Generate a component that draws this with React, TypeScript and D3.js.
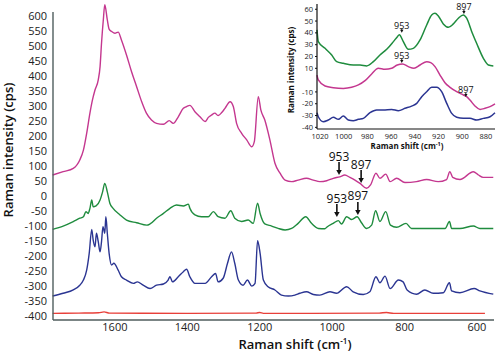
import React from 'react';
import * as d3 from 'd3';

type Pt = [number, number];

// Main spectra, [Raman shift (cm-1), intensity (cps)]
const magentaSpectrum: Pt[] = [
  [1772, 70], [1743, 81], [1715, 92], [1697, 120], [1687, 153], [1678, 209], [1669, 276], [1662, 320],
  [1655, 353], [1646, 387], [1641, 431], [1637, 509], [1632, 587], [1628, 637], [1621, 587], [1616, 556],
  [1609, 548], [1600, 542], [1591, 546], [1582, 520], [1568, 470], [1554, 414], [1540, 364], [1526, 314],
  [1513, 276], [1499, 253], [1485, 242], [1466, 239], [1450, 251], [1439, 242], [1425, 264], [1411, 292],
  [1402, 298], [1393, 302], [1379, 281], [1365, 264], [1351, 248], [1342, 262], [1333, 270], [1324, 276],
  [1315, 268], [1305, 278], [1296, 292], [1282, 314], [1273, 298], [1264, 242], [1250, 209], [1236, 187],
  [1222, 164], [1215, 181], [1204, 331], [1197, 287], [1186, 253], [1172, 187], [1158, 109], [1144, 76],
  [1130, 53], [1112, 48], [1094, 53], [1071, 59], [1052, 53], [1034, 48], [1015, 51], [997, 59],
  [979, 64], [965, 70], [951, 62], [937, 53], [923, 42], [905, 26], [894, 37], [879, 76], [868, 59],
  [852, 73], [840, 48], [822, 59], [799, 45], [767, 48], [739, 55], [707, 48], [684, 55], [675, 81],
  [667, 62], [647, 55], [610, 81], [596, 70], [583, 62], [555, 62],
];

const greenSpectrum: Pt[] = [
  [1772, -111], [1743, -100], [1715, -85], [1697, -74], [1687, -69], [1680, -52], [1674, -58], [1669, -41],
  [1664, -13], [1660, -36], [1652, -33], [1641, -13], [1634, 14], [1628, 42], [1621, 14], [1614, -24],
  [1605, -41], [1586, -63], [1568, -80], [1540, -89], [1512, -97], [1503, -93], [1485, -74], [1466, -58],
  [1448, -41], [1430, -30], [1411, -33], [1397, -27], [1393, -41], [1379, -63], [1361, -69], [1342, -69],
  [1328, -52], [1315, -69], [1296, -74], [1280, -49], [1269, -74], [1250, -85], [1232, -80], [1218, -91],
  [1206, -24], [1199, -58], [1186, -93], [1167, -100], [1149, -108], [1130, -113], [1112, -108],
  [1094, -91], [1073, -69], [1057, -91], [1038, -108], [1020, -109], [1015, -104], [997, -91], [983, -82],
  [974, -93], [960, -69], [946, -78], [931, -69], [919, -89], [905, -108], [891, -97], [880, -49],
  [868, -85], [852, -52], [839, -97], [822, -104], [796, -91], [781, -108], [748, -108], [721, -108],
  [688, -108], [676, -85], [670, -108], [647, -108], [610, -100], [592, -108], [555, -108],
];

const blueSpectrum: Pt[] = [
  [1772, -333], [1743, -324], [1715, -313], [1697, -297], [1687, -280], [1678, -247], [1671, -191],
  [1664, -111], [1660, -147], [1655, -169], [1651, -124], [1646, -152], [1641, -186], [1637, -152],
  [1633, -102], [1628, -124], [1625, -69], [1621, -124], [1616, -191], [1609, -230], [1603, -224],
  [1591, -247], [1582, -269], [1568, -280], [1549, -291], [1538, -286], [1522, -297], [1503, -308],
  [1485, -297], [1466, -293], [1453, -280], [1448, -269], [1441, -286], [1425, -269], [1411, -252],
  [1402, -244], [1393, -269], [1379, -291], [1351, -291], [1333, -269], [1322, -258], [1315, -286],
  [1301, -274], [1289, -224], [1278, -186], [1269, -224], [1259, -280], [1246, -297], [1234, -280],
  [1222, -300], [1213, -291], [1206, -149], [1199, -191], [1190, -280], [1177, -302], [1158, -313],
  [1140, -330], [1121, -333], [1103, -330], [1089, -324], [1071, -319], [1052, -328], [1034, -330],
  [1006, -319], [988, -324], [960, -302], [942, -319], [914, -328], [896, -319], [879, -269],
  [868, -289], [854, -267], [840, -308], [817, -280], [804, -286], [793, -313], [767, -327],
  [744, -313], [721, -324], [693, -322], [676, -289], [670, -316], [647, -322], [608, -308],
  [592, -316], [555, -327],
];

const redSpectrum: Pt[] = [
  [1772, -391], [1700, -390], [1645, -389], [1630, -386], [1615, -390], [1400, -391], [1210, -390],
  [1200, -388], [1190, -391], [870, -390], [850, -388], [830, -391], [578, -391],
];

// Inset spectra (zoom on 1020-875 cm-1)
const insetGreen: Pt[] = [
  [1025.6, 42.5], [1021.4, 32.6], [1015.7, 26.9], [1010.1, 21.3], [1005.9, 15.6], [1000.3, 14.2],
  [991.8, 12.8], [986.2, 12.8], [980.6, 12], [975, 15.6], [969.4, 21.3], [963.7, 26.1], [958.1, 32.6],
  [954.7, 36.8], [953.1, 38.5], [949.7, 32.6], [945.5, 26.1], [941.3, 26.9], [935.6, 34], [930, 46.7],
  [925.8, 55.2], [923, 56.6], [920.2, 54.3], [916, 47.6], [911.7, 44.7], [907.5, 47.6], [903.3, 52.4],
  [899.1, 55.2], [896.3, 52.4], [892, 41], [887.9, 31.2], [882.2, 18.5], [878, 12.8], [873.8, 12],
];

const insetMagenta: Pt[] = [
  [1025.6, 4.3], [1021.4, 0.1], [1015.7, -5], [1008.7, -6.4], [1000.3, -7], [993.3, -6.1], [987.6, -4.1],
  [982, -0.5], [976.4, 5.2], [970.8, 10], [965.2, 9.1], [959.5, 10], [954.8, 12.8], [950.3, 13.6],
  [945.5, 11.4], [940.7, 10], [935.6, 12.8], [930, 15.6], [926.6, 14.8], [923, 11.4], [918.8, 4.3],
  [914.6, -2.2], [910.3, -6.1], [904.7, -9.8], [899.1, -12.6], [896.3, -14], [893.5, -16.9],
  [889.3, -21.9], [885, -24.8], [880.8, -23.9], [876.6, -22.5], [872.4, -20.2],
];

const insetBlue: Pt[] = [
  [1025.6, -27.6], [1021.4, -31], [1017.2, -35.2], [1013, -33.8], [1008.7, -31.5], [1004.5, -33.2],
  [1000.3, -30.4], [996.1, -33.8], [991.9, -34.4], [987.6, -33.2], [983.4, -32.4], [977.8, -27.6],
  [972.2, -25.3], [966.6, -25.3], [959.5, -24.8], [953.9, -25.9], [948.3, -23.9], [942.7, -22],
  [938.4, -19.7], [934.2, -14], [930, -9.8], [925.8, -6.1], [921.6, -6.1], [917.4, -9.8], [913.1, -19.7],
  [908.9, -28.2], [904.7, -31.5], [899.1, -32.4], [893.5, -32.4], [887.8, -33.8], [882.2, -32.4],
  [876.6, -31], [872.4, -27.6],
];

const mainXTicks = [1600, 1400, 1200, 1000, 800, 600];
const mainYTicks = [600, 550, 500, 450, 400, 350, 300, 250, 200, 150, 100, 50, 0, -50, -100, -150, -200, -250, -300, -350, -400];
const insetXTicks = [1020, 1000, 980, 960, 940, 920, 900, 880];
const insetYTicks = [60, 50, 40, 30, 20, 10, -10, -20, -30, -40];

// arrow tips [shift, intensity] with their label
const mainMarks: { label: string; tip: Pt }[] = [
  { label: '953', tip: [981, 70] },
  { label: '897', tip: [920, 43] },
  { label: '953', tip: [987, -70] },
  { label: '897', tip: [929, -63] },
];
const insetMarks: { label: string; tip: Pt }[] = [
  { label: '953', tip: [951, 40] },
  { label: '897', tip: [898.6, 56] },
  { label: '953', tip: [951, 14.5] },
  { label: '897', tip: [897, -14.3] },
];

const COLORS = { magenta: '#c4378f', green: '#1f8c3e', blue: '#2b3592', red: '#e8403a' };
const FONT = '"Open Sans", "Noto Sans", sans-serif';

const Arrow = ({ x, y, len, head, gap, label, size }: { x: number; y: number; len: number; head: number; gap: number; label: string; size: number }) => (
  <g>
    <line x1={x} x2={x} y1={y - len} y2={y - head + 0.5} stroke="#111" strokeWidth={head > 3 ? 1.6 : 1} />
    <path d={`M${x - head * 0.55},${y - head}L${x + head * 0.55},${y - head}L${x},${y}Z`} fill="#111" />
    <text x={x} y={y - len - gap} textAnchor="middle" fontSize={size} fill="#111" fontFamily={FONT}>{label}</text>
  </g>
);

export default function App() {
  const x = d3.scaleLinear().domain([1771, 553]).range([53, 494]);
  const y = d3.scaleLinear().domain([-413, 613]).range([320, 12]);
  const line = d3.line<Pt>().x(d => x(d[0])).y(d => y(d[1])).curve(d3.curveMonotoneX);

  const ix = d3.scaleLinear().domain([1022.5, 872.4]).range([317, 495]);
  const iy = d3.scaleLinear().domain([-41.4, 63.6]).range([129, 5]);
  const iline = d3.line<Pt>()
    .x(d => ix(Math.min(1022.5, Math.max(872.4, d[0]))))
    .y(d => iy(d[1]))
    .curve(d3.curveMonotoneX);

  const mainSeries: [Pt[], string][] = [
    [magentaSpectrum, COLORS.magenta], [greenSpectrum, COLORS.green],
    [blueSpectrum, COLORS.blue], [redSpectrum, COLORS.red],
  ];
  const insetSeries: [Pt[], string][] = [
    [insetGreen, COLORS.green], [insetMagenta, COLORS.magenta], [insetBlue, COLORS.blue],
  ];

  return (
    <svg width={500} height={352} style={{ position: 'absolute', left: 0, top: 0, background: '#fff' }} fontFamily={FONT}>
      {/* main spectra */}
      {mainSeries.map(([d, c], i) => (
        <path key={i} d={line(d) ?? ''} fill="none" stroke={c} strokeWidth={1.4} strokeLinejoin="round" />
      ))}

      {/* main axes */}
      <line x1={53} x2={53} y1={12} y2={320} stroke="#4f5d5d" strokeWidth={1.4} />
      <line x1={53} x2={494} y1={320} y2={320} stroke="#4f5d5d" strokeWidth={1.4} />
      {mainYTicks.map(t => (
        <text key={t} x={47} y={y(t)} dy="0.35em" textAnchor="end" fontSize={11} fill="#222">{t}</text>
      ))}
      {mainXTicks.map(t => (
        <text key={t} x={x(t)} y={331} textAnchor="middle" fontSize={11} fill="#222">{t}</text>
      ))}
      <text x={295} y={349} textAnchor="middle" fontSize={13} fill="#111" fontWeight={600}>
        Raman shift (cm<tspan fontSize={8} dy={-5}>-1</tspan><tspan dy={5}>)</tspan>
      </text>
      <text transform="translate(13,150) rotate(-90)" textAnchor="middle" fontSize={13} fill="#111" fontWeight={600}>
        Raman intensity (cps)
      </text>

      {mainMarks.map((m, i) => (
        <Arrow key={i} x={x(m.tip[0])} y={y(m.tip[1])} len={13} head={5} gap={1.5} label={m.label} size={12} />
      ))}

      {/* inset */}
      {insetSeries.map(([d, c], i) => (
        <path key={i} d={iline(d) ?? ''} fill="none" stroke={c} strokeWidth={1.5} strokeLinejoin="round" />
      ))}
      <line x1={317} x2={317} y1={4} y2={129} stroke="#111" strokeWidth={1.2} />
      <line x1={317} x2={495} y1={129} y2={129} stroke="#111" strokeWidth={1.2} />
      {insetYTicks.map(t => (
        <g key={t}>
          <line x1={315} x2={317} y1={iy(t)} y2={iy(t)} stroke="#111" />
          <text x={313} y={iy(t)} dy="0.35em" textAnchor="end" fontSize={7.5} fill="#222">{t}</text>
        </g>
      ))}
      {insetXTicks.map(t => (
        <text key={t} x={ix(t)} y={139} textAnchor="middle" fontSize={7.5} fill="#222">{t}</text>
      ))}
      <text x={407} y={149} textAnchor="middle" fontSize={8} fontWeight={700} fill="#111">
        Raman shift (cm<tspan fontSize={5.5} dy={-3}>-1</tspan><tspan dy={3}>)</tspan>
      </text>
      <text transform="translate(294,70) rotate(-90)" textAnchor="middle" fontSize={8} fontWeight={700} fill="#111">
        Raman intensity (cps)
      </text>
      {insetMarks.map((m, i) => (
        <Arrow key={i} x={ix(m.tip[0])} y={iy(m.tip[1])} len={4} head={3} gap={0} label={m.label} size={9} />
      ))}
    </svg>
  );
}
